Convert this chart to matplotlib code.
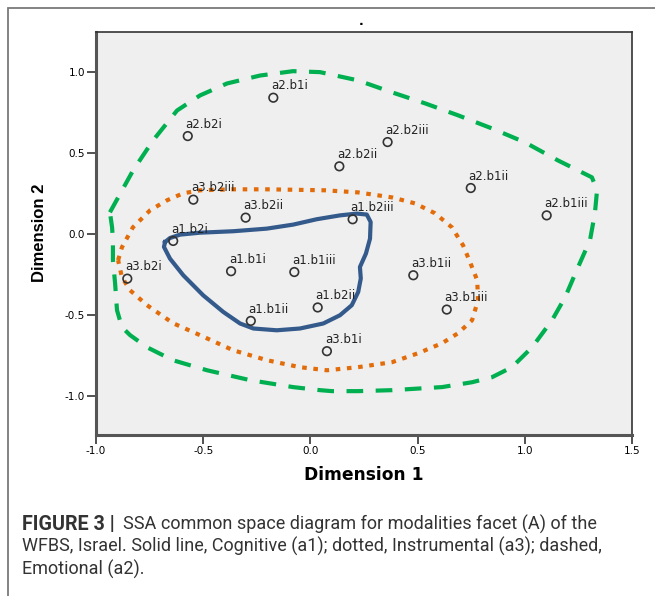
import matplotlib
matplotlib.use('Agg')
import matplotlib.pyplot as plt
from matplotlib.patches import Rectangle

plt.rcParams['axes.unicode_minus'] = False

# item coordinates in the common space
labels = ['a2.b1i', 'a2.b2i', 'a3.b2iii', 'a3.b2ii', 'a1.b2i', 'a2.b2iii',
          'a2.b2ii', 'a2.b1ii', 'a1.b2iii', 'a2.b1iii', 'a3.b2i', 'a1.b1i',
          'a1.b1iii', 'a1.b2ii', 'a1.b1ii', 'a3.b1i', 'a3.b1ii', 'a3.b1iii']
dim1 = [-0.173, -0.572, -0.546, -0.302, -0.640, 0.360,
        0.135, 0.748, 0.197, 1.102, -0.854, -0.370,
        -0.075, 0.034, -0.278, 0.077, 0.480, 0.636]
dim2 = [0.844, 0.607, 0.214, 0.103, -0.041, 0.570,
        0.420, 0.286, 0.093, 0.117, -0.274, -0.228,
        -0.233, -0.452, -0.535, -0.722, -0.253, -0.465]

# region boundaries drawn around each modality
cog_x = [-0.678, -0.655, -0.608, -0.515, -0.360, -0.204, -0.080, 0.029, 0.138,
         0.216, 0.263, 0.281, 0.278, 0.259, 0.231, 0.235, 0.223, 0.193, 0.138,
         0.060, -0.049, -0.157, -0.266, -0.328, -0.406, -0.500, -0.593, -0.655,
         -0.683, -0.678]
cog_y = [-0.048, -0.023, -0.002, 0.010, 0.019, 0.035, 0.060, 0.093, 0.117,
         0.128, 0.122, 0.076, -0.027, -0.119, -0.202, -0.273, -0.356, -0.438,
         -0.500, -0.551, -0.582, -0.593, -0.582, -0.551, -0.480, -0.377,
         -0.253, -0.150, -0.078, -0.048]

ins_x = [-0.897, -0.879, -0.828, -0.748, -0.669, -0.594, -0.515, -0.361, -0.202,
         0.067, 0.222, 0.381, 0.488, 0.581, 0.660, 0.712, 0.745, 0.778, 0.782,
         0.754, 0.689, 0.614, 0.502, 0.381, 0.222, 0.077, -0.049, -0.202,
         -0.361, -0.515, -0.641, -0.762, -0.841, -0.879, -0.897]
ins_y = [-0.160, -0.080, 0.043, 0.148, 0.210, 0.253, 0.272, 0.278, 0.278,
         0.272, 0.259, 0.228, 0.191, 0.130, 0.043, -0.068, -0.173, -0.284,
         -0.407, -0.531, -0.611, -0.673, -0.735, -0.790, -0.821, -0.840,
         -0.821, -0.778, -0.716, -0.623, -0.549, -0.438, -0.346, -0.265, -0.160]

emo_x = [-0.935, -0.827, -0.734, -0.622, -0.515, -0.389, -0.235, -0.081, 0.045,
         0.222, 0.381, 0.535, 0.689, 0.847, 1.001, 1.154, 1.248, 1.313, 1.337,
         1.327, 1.304, 1.248, 1.188, 1.127, 1.034, 0.940, 0.847, 0.754, 0.614,
         0.381, 0.222, 0.101, 0.045, -0.081, -0.282, -0.482, -0.641, -0.762,
         -0.841, -0.879, -0.902, -0.911, -0.921, -0.921, -0.925, -0.935]
emo_y = [0.136, 0.395, 0.580, 0.765, 0.858, 0.932, 0.981, 1.008, 1.002,
         0.951, 0.877, 0.809, 0.735, 0.654, 0.568, 0.457, 0.395, 0.352, 0.272,
         0.130, -0.037, -0.204, -0.389, -0.531, -0.698, -0.821, -0.883, -0.914,
         -0.944, -0.963, -0.969, -0.969, -0.963, -0.944, -0.901, -0.840,
         -0.778, -0.698, -0.623, -0.574, -0.469, -0.302, -0.160, -0.037,
         0.043, 0.136]

ticks_x = [-1.0, -0.5, 0.0, 0.5, 1.0, 1.5]
ticks_y = [-1.0, -0.5, 0.0, 0.5, 1.0]

W, H = 655, 596
fig = plt.figure(figsize=(W / 100, H / 100), dpi=100)
fig.patch.set_facecolor('white')

# frame around the figure panel
fig.patches.append(Rectangle((8 / W, -0.1), 1.2, 1 - 8 / H + 0.1,
                             transform=fig.transFigure, fill=False,
                             edgecolor='#7a7a7a', linewidth=1.3))

ax = fig.add_axes([96 / W, 1 - 435 / H, 536 / W, 403 / H])
ax.set_facecolor('#efefef')

ax.plot(emo_x, emo_y, color='#00b050', lw=3.0, linestyle=(0, (4.0, 3.0)),
        dash_capstyle='butt', zorder=2)
ax.plot(ins_x, ins_y, color='#e36c0a', lw=3.0, linestyle=(0, (1.1, 1.6)),
        dash_capstyle='butt', zorder=2)
ax.plot(cog_x, cog_y, color='#345a8c', lw=3.0, solid_joinstyle='round',
        zorder=3)

ax.scatter(dim1, dim2, s=38, facecolors='none', edgecolors='#333333',
           linewidths=1.2, zorder=4)
for name, px, py in zip(labels, dim1, dim2):
    ax.annotate(name, (px, py), xytext=(-1.5, 8.5), textcoords='offset points',
                ha='left', va='center', fontsize=8.5, color='#222222',
                zorder=5)

ax.set_xlim(-1.0, 1.5)
ax.set_ylim(-1.24, 1.25)
ax.set_xticks(ticks_x)
ax.set_xticklabels(['%.1f' % t for t in ticks_x])
ax.set_yticks(ticks_y)
ax.set_yticklabels(['%.1f' % t for t in ticks_y])
ax.tick_params(direction='out', length=6.5, width=1.2, color='#333333',
               labelsize=7.5, pad=1.5)

for side in ['left', 'bottom']:
    ax.spines[side].set_linewidth(2.2)
    ax.spines[side].set_color('#555555')
for side in ['top', 'right']:
    ax.spines[side].set_linewidth(1.2)
    ax.spines[side].set_color('#333333')

fig.text(364 / W, 1 - 475 / H, 'Dimension 1', ha='center', va='center',
         fontsize=12.3, fontweight='bold')
fig.text(40 / W, 1 - 233 / H, 'Dimension 2', ha='center', va='center',
         rotation=90, fontsize=12, fontweight='bold',
         family='Liberation Sans')
fig.text(361 / W, 1 - 25 / H, '.', ha='center', va='baseline', fontsize=9,
         fontweight='bold')

# caption
cap_kw = dict(family='Roboto', fontsize=13, color='#333333', va='center')
fig.text(22 / W, 1 - 524 / H, 'FIGURE 3 |', fontweight='bold',
         **dict(cap_kw, fontsize=14.2))
fig.text(123 / W, 1 - 524 / H,
         'SSA common space diagram for modalities facet (A) of the', **cap_kw)
fig.text(22 / W, 1 - 546.5 / H,
         'WFBS, Israel. Solid line, Cognitive (a1); dotted, Instrumental (a3); dashed,',
         **cap_kw)
fig.text(22 / W, 1 - 569 / H, 'Emotional (a2).', **cap_kw)

fig.savefig('out.png', dpi=100)
